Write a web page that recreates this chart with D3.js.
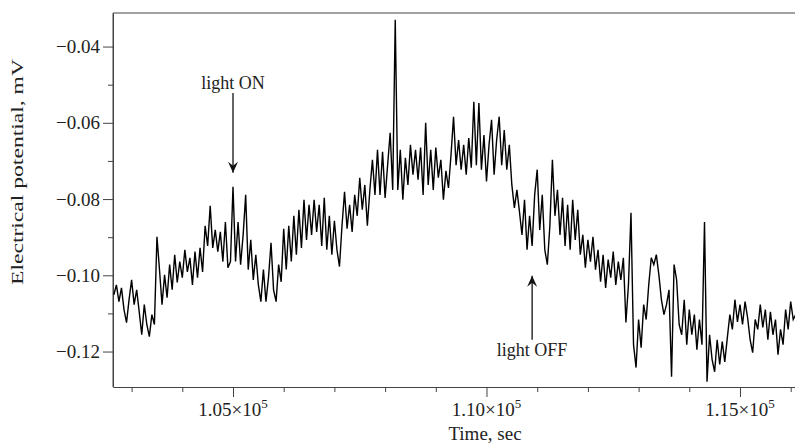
<!DOCTYPE html>
<html lang="en">
<head>
  <meta charset="utf-8">
  <title>Electrical potential vs time</title>
  <script src="https://cdnjs.cloudflare.com/ajax/libs/d3/7.8.5/d3.min.js"></script>
  <style>
    body { margin: 0; background: #fff; }
    svg text { font-family: "Liberation Serif", "Times New Roman", serif; fill: #222; }
    .axis path, .axis line { stroke: #444; }
  </style>
</head>
<body>
<svg id="chart" width="795" height="444"></svg>
<script>
  // sampling of the trace (sec)
  var t0 = 102650, dt = 50;
  // electrical potential, mV
  var potential = [
    -0.1051, -0.1025, -0.1069, -0.1033, -0.1090, -0.1124, -0.1064, -0.1012,
    -0.1077, -0.1038, -0.1096, -0.1156, -0.1077, -0.1129, -0.1161, -0.1103,
    -0.1129, -0.0899, -0.0985, -0.1077, -0.0999, -0.1059, -0.0972, -0.1038,
    -0.0946, -0.1019, -0.0964, -0.1006, -0.0933, -0.0991, -0.0954, -0.1025,
    -0.0938, -0.1006, -0.0928, -0.0991, -0.0870, -0.0923, -0.0818, -0.0928,
    -0.0881, -0.0938, -0.0886, -0.0964, -0.0860, -0.0980, -0.0964, -0.0768,
    -0.0964, -0.0860, -0.0972, -0.0894, -0.0789, -0.0985, -0.0907, -0.1012,
    -0.0946, -0.1025, -0.1069, -0.0985, -0.1069, -0.1006, -0.0915, -0.1038,
    -0.1069, -0.0972, -0.1017, -0.0878, -0.0985, -0.0870, -0.0964, -0.0844,
    -0.0946, -0.0828, -0.0928, -0.0802, -0.0907, -0.0815, -0.0894, -0.0802,
    -0.0886, -0.0815, -0.0923, -0.0797, -0.0933, -0.0844, -0.0946, -0.0857,
    -0.0933, -0.0977, -0.0870, -0.0781, -0.0878, -0.0815, -0.0886, -0.0789,
    -0.0844, -0.0744, -0.0828, -0.0763, -0.0870, -0.0776, -0.0697, -0.0789,
    -0.0671, -0.0789, -0.0676, -0.0797, -0.0711, -0.0626, -0.0776, -0.0330,
    -0.0776, -0.0671, -0.0802, -0.0692, -0.0763, -0.0658, -0.0736, -0.0671,
    -0.0749, -0.0665, -0.0789, -0.0600, -0.0763, -0.0671, -0.0776, -0.0665,
    -0.0744, -0.0697, -0.0802, -0.0726, -0.0771, -0.0684, -0.0584, -0.0711,
    -0.0645, -0.0723, -0.0658, -0.0736, -0.0640, -0.0718, -0.0545, -0.0711,
    -0.0548, -0.0723, -0.0632, -0.0754, -0.0658, -0.0592, -0.0736, -0.0645,
    -0.0584, -0.0711, -0.0619, -0.0723, -0.0658, -0.0763, -0.0823, -0.0776,
    -0.0833, -0.0894, -0.0802, -0.0933, -0.0844, -0.0923, -0.0789, -0.0723,
    -0.0881, -0.0789, -0.0933, -0.0972, -0.0870, -0.0697, -0.0844, -0.0776,
    -0.0894, -0.0797, -0.0923, -0.0815, -0.0933, -0.0802, -0.0907, -0.0828,
    -0.0946, -0.0894, -0.0980, -0.0907, -0.0964, -0.0899, -0.0985, -0.0933,
    -0.1017, -0.0946, -0.1033, -0.0959, -0.1006, -0.0938, -0.1025, -0.0964,
    -0.1012, -0.0954, -0.1124, -0.1025, -0.0836, -0.1182, -0.1242, -0.1116,
    -0.1190, -0.1077, -0.1116, -0.1025, -0.0954, -0.0972, -0.0946, -0.0999,
    -0.1064, -0.1103, -0.1077, -0.1038, -0.1266, -0.0972, -0.1012, -0.1129,
    -0.1156, -0.1064, -0.1182, -0.1090, -0.1156, -0.1103, -0.1195, -0.1116,
    -0.1182, -0.0860, -0.1279, -0.1156, -0.1221, -0.1253, -0.1169, -0.1234,
    -0.1174, -0.1227, -0.1164, -0.1103, -0.1142, -0.1064, -0.1122, -0.1077,
    -0.1129, -0.1069, -0.1111, -0.1169, -0.1203, -0.1116, -0.1142, -0.1077,
    -0.1137, -0.1090, -0.1169, -0.1096, -0.1156, -0.1116, -0.1208, -0.1142,
    -0.1182, -0.1090, -0.1142, -0.1069, -0.1116, -0.1103
  ];
  var xMajor = [105000, 110000, 115000];
  var xMinor = [103000, 104000, 106000, 107000, 108000, 109000, 111000, 112000, 113000, 114000, 116000];
  var yMajor = [-0.04, -0.06, -0.08, -0.10, -0.12];
  var yMinor = [-0.05, -0.07, -0.09, -0.11];
  // annotations: time, arrow tail, arrow tip, text baseline (mV)
  var notes = [
    { label: "light ON", t: 105000, tail: -0.0522, tip: -0.0731, text: -0.0511 },
    { label: "light OFF", t: 110900, tail: -0.1169, tip: -0.1001, text: -0.1211 }
  ];

  var svg = d3.select("#chart");
  var pLeft = 113, pRight = 795, pTop = 13, pBottom = 387;

  var x = d3.scaleLinear().domain([102633, 116085]).range([pLeft, pRight]);
  var y = d3.scaleLinear().domain([-0.1293, -0.0312]).range([pBottom, pTop]);

  svg.append("defs").append("clipPath").attr("id", "clip")
    .append("rect").attr("x", pLeft).attr("y", pTop)
    .attr("width", pRight - pLeft).attr("height", pBottom - pTop);

  // frame: left and top (right edge is off the picture)
  svg.append("path")
    .attr("d", "M" + pRight + "," + pTop + "H" + pLeft + "V" + pBottom)
    .attr("fill", "none").attr("stroke", "#444").attr("stroke-width", 1);

  // x axis
  var gx = svg.append("g").attr("class", "axis").attr("transform", "translate(0," + pBottom + ")");
  gx.call(d3.axisBottom(x).tickValues(xMinor).tickSize(5).tickFormat("").tickSizeOuter(0));
  var gx2 = svg.append("g").attr("class", "axis").attr("transform", "translate(0," + pBottom + ")");
  gx2.call(d3.axisBottom(x).tickValues(xMajor).tickSize(10).tickFormat("").tickSizeOuter(0));
  gx2.select(".domain").remove();
  var lab = svg.append("g").selectAll("text").data(xMajor).enter().append("text")
    .attr("x", function (d) { return x(d); })
    .attr("y", 416)
    .attr("text-anchor", "middle")
    .style("font-size", "19px");
  lab.append("tspan").text(function (d) { return (d / 1e5).toFixed(2) + "×10"; });
  lab.append("tspan").attr("dy", -8).style("font-size", "13px").text("5");

  // y axis
  var gy = svg.append("g").attr("class", "axis").attr("transform", "translate(" + pLeft + ",0)");
  gy.call(d3.axisLeft(y).tickValues(yMinor).tickSize(5).tickFormat("").tickSizeOuter(0));
  var gy2 = svg.append("g").attr("class", "axis").attr("transform", "translate(" + pLeft + ",0)");
  gy2.call(d3.axisLeft(y).tickValues(yMajor).tickSize(10).tickPadding(3).tickFormat(d3.format(".2f")).tickSizeOuter(0));
  gy2.select(".domain").remove();
  gy2.selectAll("text").style("font-size", "19px").style("fill", "#222")
    .style("font-family", "Liberation Serif, serif");

  // axis titles
  svg.append("text").attr("x", 485).attr("y", 440)
    .attr("text-anchor", "middle").style("font-size", "19px").text("Time, sec");
  svg.append("text")
    .attr("transform", "translate(23,172) rotate(-90)")
    .attr("text-anchor", "middle").style("font-size", "16px")
    .attr("textLength", 226).attr("lengthAdjust", "spacingAndGlyphs")
    .text("Electrical potential, mV");

  // trace
  var line = d3.line()
    .x(function (d, i) { return x(t0 + i * dt); })
    .y(function (d) { return y(d); });
  svg.append("path").datum(potential)
    .attr("clip-path", "url(#clip)")
    .attr("d", line)
    .attr("fill", "none").attr("stroke", "#000").attr("stroke-width", 1.4)
    .attr("stroke-linejoin", "miter");

  // arrow head
  svg.select("defs").append("marker").attr("id", "head")
    .attr("viewBox", "-12 -6 14 12").attr("refX", 0).attr("refY", 0)
    .attr("markerWidth", 14).attr("markerHeight", 12)
    .attr("markerUnits", "userSpaceOnUse").attr("orient", "auto")
    .append("path").attr("d", "M0,0L-11,-5L-7,0L-11,5Z").attr("fill", "#111");

  var ann = svg.append("g").selectAll("g").data(notes).enter().append("g");
  ann.append("line")
    .attr("x1", function (d) { return x(d.t); }).attr("x2", function (d) { return x(d.t); })
    .attr("y1", function (d) { return y(d.tail); }).attr("y2", function (d) { return y(d.tip); })
    .attr("stroke", "#111").attr("stroke-width", 1.3).attr("marker-end", "url(#head)");
  ann.append("text")
    .attr("x", function (d) { return x(d.t); }).attr("y", function (d) { return y(d.text); })
    .attr("text-anchor", "middle").style("font-size", "18px")
    .text(function (d) { return d.label; });
</script>
</body>
</html>
